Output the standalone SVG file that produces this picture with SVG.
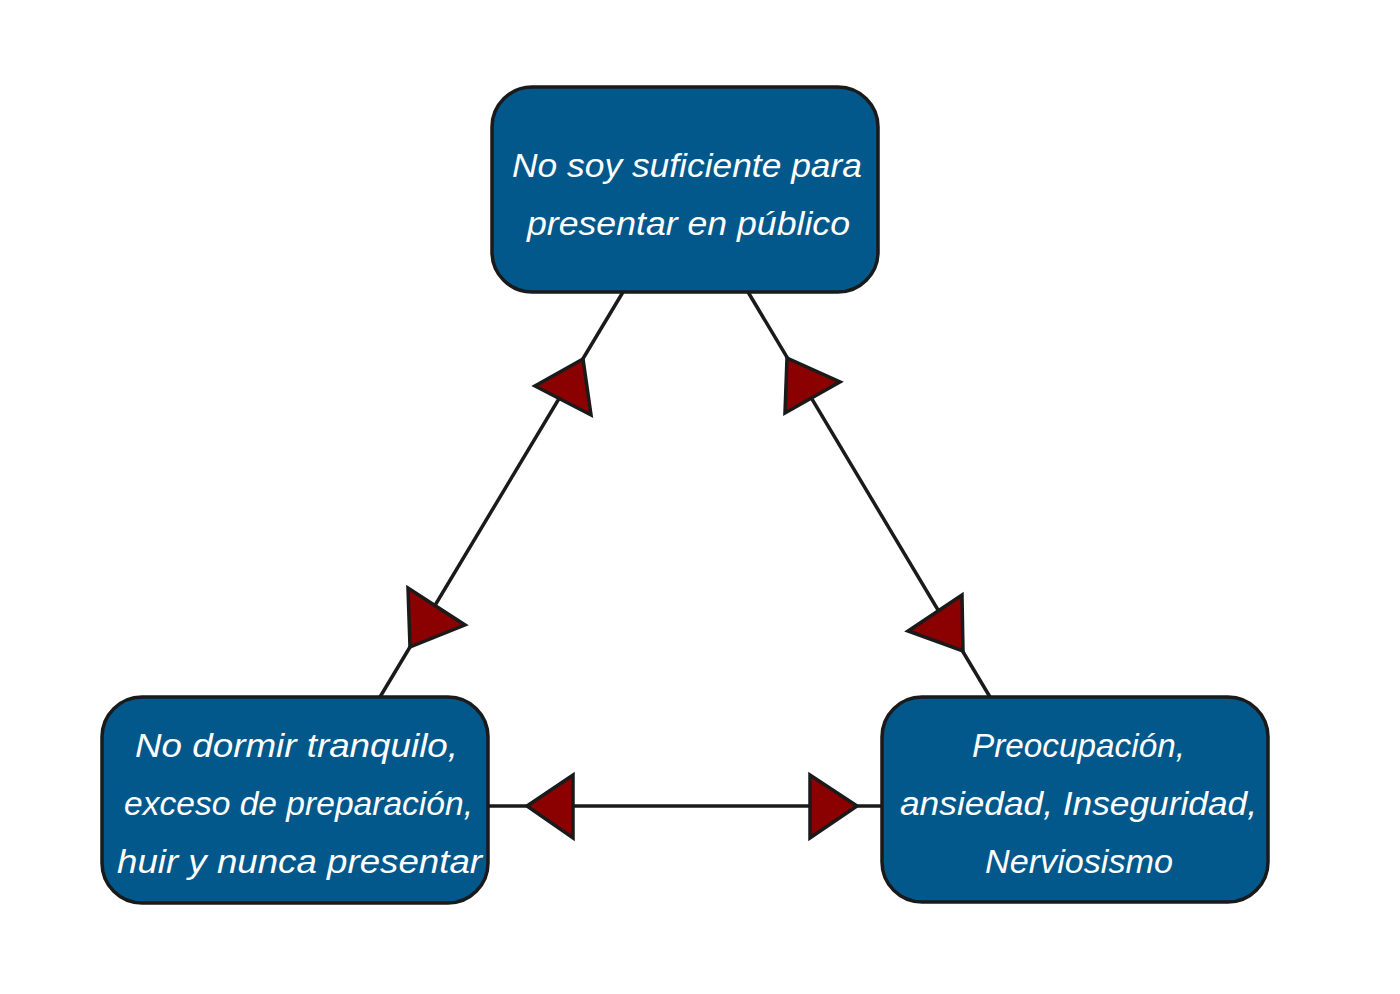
<svg xmlns="http://www.w3.org/2000/svg" width="1400" height="994" viewBox="0 0 1400 994">
<style>
.box{fill:#03588b;stroke:#1a1a1a;stroke-width:3.5}
.t{font-family:"Liberation Sans",Arial,sans-serif;font-style:italic;font-size:34px;fill:#ffffff}
.ln{stroke:#1a1a1a;stroke-width:3.5;fill:none}
.ah{fill:#8b0000;stroke:#1a1a1a;stroke-width:3.5;stroke-linejoin:miter}
</style>
<rect width="1400" height="994" fill="#ffffff"/>
<g id="connectors">
<line class="ln" x1="623" y1="292" x2="380" y2="697"/>
<line class="ln" x1="748" y1="292" x2="990" y2="697"/>
<line class="ln" x1="488" y1="806" x2="883" y2="806"/>
<polygon class="ah" points="583,359 535,386 591,415"/>
<polygon class="ah" points="410,647 408,588 465,625"/>
<polygon class="ah" points="787,358 840,382 785,413"/>
<polygon class="ah" points="963,651 962,595 908,631"/>
<polygon class="ah" points="527,806 573,775 573,838"/>
<polygon class="ah" points="857,806 810,775 810,838"/>
</g>
<g id="node-top">
<rect class="box" x="492" y="87" width="386" height="205" rx="40" ry="40"/>
<text class="t" x="512" y="177" textLength="350" lengthAdjust="spacingAndGlyphs">No soy suficiente para</text>
<text class="t" x="527" y="235" textLength="323" lengthAdjust="spacingAndGlyphs">presentar en público</text>
</g>
<g id="node-left">
<rect class="box" x="102" y="697" width="386" height="206" rx="40" ry="40"/>
<text class="t" x="135" y="757" textLength="323" lengthAdjust="spacingAndGlyphs">No dormir tranquilo,</text>
<text class="t" x="124" y="815" textLength="349" lengthAdjust="spacingAndGlyphs">exceso de preparación,</text>
<text class="t" x="117" y="873" textLength="365" lengthAdjust="spacingAndGlyphs">huir y nunca presentar</text>
</g>
<g id="node-right">
<rect class="box" x="882" y="697" width="386" height="205" rx="40" ry="40"/>
<text class="t" x="972" y="757" textLength="213" lengthAdjust="spacingAndGlyphs">Preocupación,</text>
<text class="t" x="900" y="815" textLength="357" lengthAdjust="spacingAndGlyphs">ansiedad, Inseguridad,</text>
<text class="t" x="985" y="873" textLength="188" lengthAdjust="spacingAndGlyphs">Nerviosismo</text>
</g>
</svg>
